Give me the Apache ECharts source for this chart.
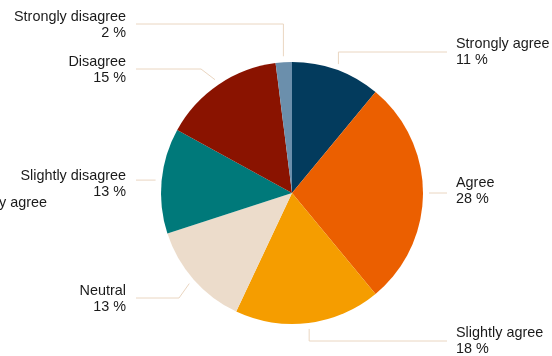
<!DOCTYPE html>
<html>
<head>
<meta charset="utf-8">
<script src="https://cdn.jsdelivr.net/npm/echarts@6/dist/echarts.min.js"></script>
<style>
  html, body { margin: 0; padding: 0; background: #ffffff; }
  #chart { width: 552px; height: 356px; }
</style>
</head>
<body>
<div id="chart"></div>
<script>
// Survey answers, in clockwise order starting at 12 o'clock
const categories = ['Strongly agree', 'Agree', 'Slightly agree', 'Neutral',
                    'Slightly disagree', 'Disagree', 'Strongly disagree'];
const shares = [11, 28, 18, 13, 13, 15, 2];
const sliceColors = ['#033b5d', '#eb5f00', '#f59d00', '#ecdccb',
                     '#00797a', '#8a1300', '#6b8fac'];

const CX = 292, CY = 193, R = 131;
const total = shares.reduce((a, b) => a + b, 0);

// Point just outside the rim at the middle angle of slice i
function rimPoint(i, gap) {
  let before = 0;
  for (let k = 0; k < i; k++) before += shares[k];
  const a = (before + shares[i] / 2) / total * Math.PI * 2;
  return [CX + (R + gap) * Math.sin(a), CY - (R + gap) * Math.cos(a)];
}

// Label placement and leader-line routing per slice
function placeLabel(i) {
  const p = rimPoint(i, 6);
  switch (i) {
    case 0: return { x: 456, y: 52, align: 'left', pts: [p, [p[0], 52], [447, 52]] };
    case 1: return { x: 456, y: 191, align: 'left', pts: [p, [447, p[1]]] };
    case 2: return { x: 456, y: 341, align: 'left', pts: [p, [p[0], 341], [447, 341]] };
    case 3: return { x: 126, y: 299, align: 'right', pts: [p, [179, 298], [136, 298]] };
    case 4: return { x: 126, y: 184, align: 'right', pts: [p, [136, p[1]]] };
    case 5: return { x: 126, y: 70, align: 'right', pts: [p, [201, 69], [136, 69]] };
    default: return { x: 126, y: 25, align: 'right', pts: [p, [p[0], 24], [136, 24]] };
  }
}

const chart = echarts.init(document.getElementById('chart'), null, { renderer: 'canvas' });

chart.setOption({
  backgroundColor: '#ffffff',
  animation: false,
  color: sliceColors,
  graphic: [{
    type: 'text',
    x: 47, y: 203,
    style: {
      text: 'Slightly agree',
      align: 'right',
      verticalAlign: 'middle',
      fill: '#1a1a1a',
      font: '14.4px "Liberation Sans", Arial, sans-serif'
    }
  }],
  series: [{
    type: 'pie',
    center: [CX, CY],
    radius: R,
    startAngle: 90,
    clockwise: true,
    avoidLabelOverlap: false,
    itemStyle: { borderWidth: 0 },
    emphasis: { disabled: true },
    data: categories.map((name, i) => ({ name: name, value: shares[i] })),
    label: {
      show: true,
      position: 'outside',
      formatter: '{b}\n{c} %',
      color: '#1a1a1a',
      fontFamily: '"Liberation Sans", Arial, sans-serif',
      fontSize: 14.4,
      lineHeight: 16
    },
    labelLine: {
      show: true,
      smooth: false,
      lineStyle: { color: '#ead6c1', width: 1 }
    },
    labelLayout: function (params) {
      const l = placeLabel(params.dataIndex);
      return {
        x: l.x,
        y: l.y,
        align: l.align,
        verticalAlign: 'middle',
        labelLinePoints: l.pts
      };
    }
  }]
});
</script>
</body>
</html>
